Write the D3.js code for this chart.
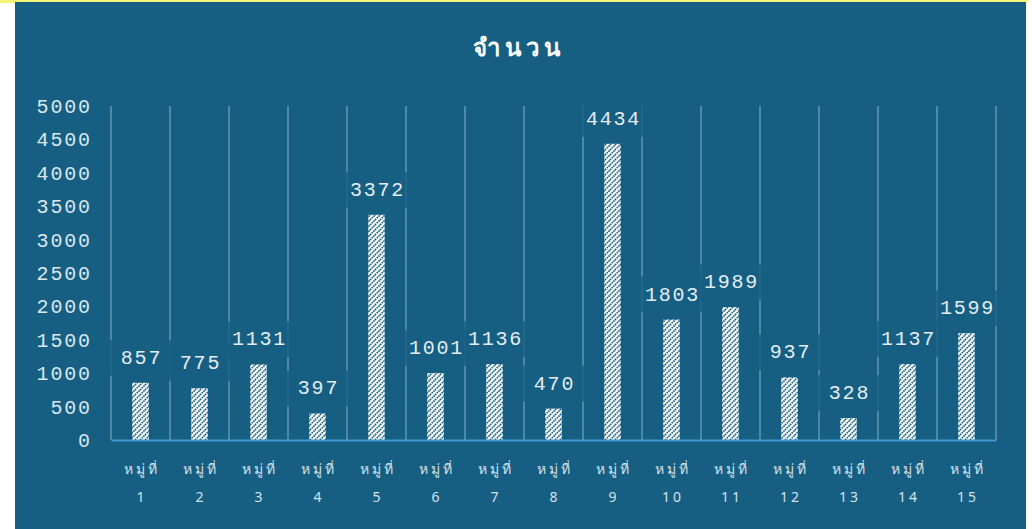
<!DOCTYPE html>
<html><head><meta charset="utf-8">
<script src="https://cdn.jsdelivr.net/npm/d3@7"></script>
<style>html,body{margin:0;padding:0;background:#fff;overflow:hidden}</style>
</head><body>
<svg id="c" width="1032" height="529"></svg>
<script>
const categories = ["หมู่ที่ 1","หมู่ที่ 2","หมู่ที่ 3","หมู่ที่ 4","หมู่ที่ 5","หมู่ที่ 6","หมู่ที่ 7","หมู่ที่ 8","หมู่ที่ 9","หมู่ที่ 10","หมู่ที่ 11","หมู่ที่ 12","หมู่ที่ 13","หมู่ที่ 14","หมู่ที่ 15"];
const values = [857,775,1131,397,3372,1001,1136,470,4434,1803,1989,937,328,1137,1599];
const yTicks = [0,500,1000,1500,2000,2500,3000,3500,4000,4500,5000];
const title = "จำนวน";

const svg = d3.select("#c");
const W = 1032, H = 529;
const panel = "#175f82";
const mono = "'Liberation Mono', 'DejaVu Sans Mono', monospace";

// backgrounds
svg.append("rect").attr("x",0).attr("y",0).attr("width",W).attr("height",H).attr("fill","#ffffff");
svg.append("rect").attr("x",0).attr("y",0).attr("width",1027).attr("height",3).attr("fill","#f2f576");
svg.append("rect").attr("x",15).attr("y",2).attr("width",1011).attr("height",H-2).attr("fill",panel);

const defs = svg.append("defs");
const pat = defs.append("pattern").attr("id","hatch").attr("patternUnits","userSpaceOnUse")
  .attr("width",5).attr("height",5);
pat.append("rect").attr("width",5).attr("height",5).attr("fill","#ffffff");
pat.append("path").attr("d","M-1,1 l2,-2 M0,5 l5,-5 M4,6 l2,-2").attr("stroke",panel).attr("stroke-width",1.6)
  .attr("stroke-dasharray","1.6,0.8");

const m = {l:111, r:996, t:106, b:440};
const x = d3.scaleBand().domain(categories).range([m.l, m.r]).padding(0);
const y = d3.scaleLinear().domain([0,5000]).range([m.b, m.t]);

// title
svg.append("text").attr("x",519).attr("y",56).attr("text-anchor","middle")
  .attr("fill","#ffffff").attr("font-family","'Noto Sans', sans-serif").attr("font-weight","bold")
  .attr("font-size",24).attr("letter-spacing",5).text(title);

// vertical gridlines at band boundaries
const bounds = categories.map(c => x(c)).concat([x(categories[categories.length-1]) + x.bandwidth()]);
svg.append("g").selectAll("line").data(bounds).join("line")
  .attr("x1",d=>d).attr("x2",d=>d).attr("y1",m.t).attr("y2",m.b)
  .attr("stroke","#4f88a8").attr("stroke-width",2);

// y axis labels
const yAxis = d3.axisLeft(y).tickValues(yTicks).tickSize(0).tickPadding(0).tickFormat(d3.format("d"));
const yg = svg.append("g").attr("transform",`translate(90,0)`).call(yAxis);
yg.select(".domain").remove();
yg.selectAll("text").attr("fill","#dbe7ee").attr("font-family",mono).attr("font-size",20)
  .attr("letter-spacing",1.8).attr("dx",1.8);

// bars
const bw = 16.5;
svg.append("g").selectAll("rect").data(values).join("rect")
  .attr("x",(d,i)=>x(categories[i]) + x.bandwidth()/2 - bw/2)
  .attr("y",d=>y(d)).attr("width",bw).attr("height",d=>y(0)-y(d))
  .attr("fill","url(#hatch)");

// axis line
const xAxis = d3.axisBottom(x).tickSize(0).tickFormat("");
const xg = svg.append("g").attr("transform",`translate(0,${m.b})`).call(xAxis);
xg.select(".domain").attr("stroke","#3d9ad0").attr("stroke-width",2);

// x labels (two lines)
const xl = svg.append("g").selectAll("text").data(categories).join("text")
  .attr("text-anchor","middle").attr("fill","#d3e1ea")
  .attr("font-family","'Noto Sans', 'DejaVu Sans', sans-serif").attr("font-size",14).attr("letter-spacing",3);
xl.append("tspan").attr("x",d=>x(d)+x.bandwidth()/2+1.5).attr("y",474).text(d=>d.split(" ")[0]);
xl.append("tspan").attr("x",d=>x(d)+x.bandwidth()/2+1.5).attr("y",502).text(d=>d.split(" ")[1]);

// data labels with boxes
const lab = svg.append("g").selectAll("g").data(values).join("g");
lab.append("rect")
  .attr("x",(d,i)=>x(categories[i])-1).attr("width",x.bandwidth()+2)
  .attr("y",d=>y(d)-43).attr("height",36)
  .attr("fill",panel).attr("opacity",0.8);
lab.append("text")
  .attr("x",(d,i)=>x(categories[i])+x.bandwidth()/2+1)
  .attr("y",d=>y(d)-19)
  .attr("text-anchor","middle").attr("fill","#e3edf2").attr("font-family",mono)
  .attr("font-size",20).attr("letter-spacing",1.8).text(d=>d);
</script>
</body></html>
